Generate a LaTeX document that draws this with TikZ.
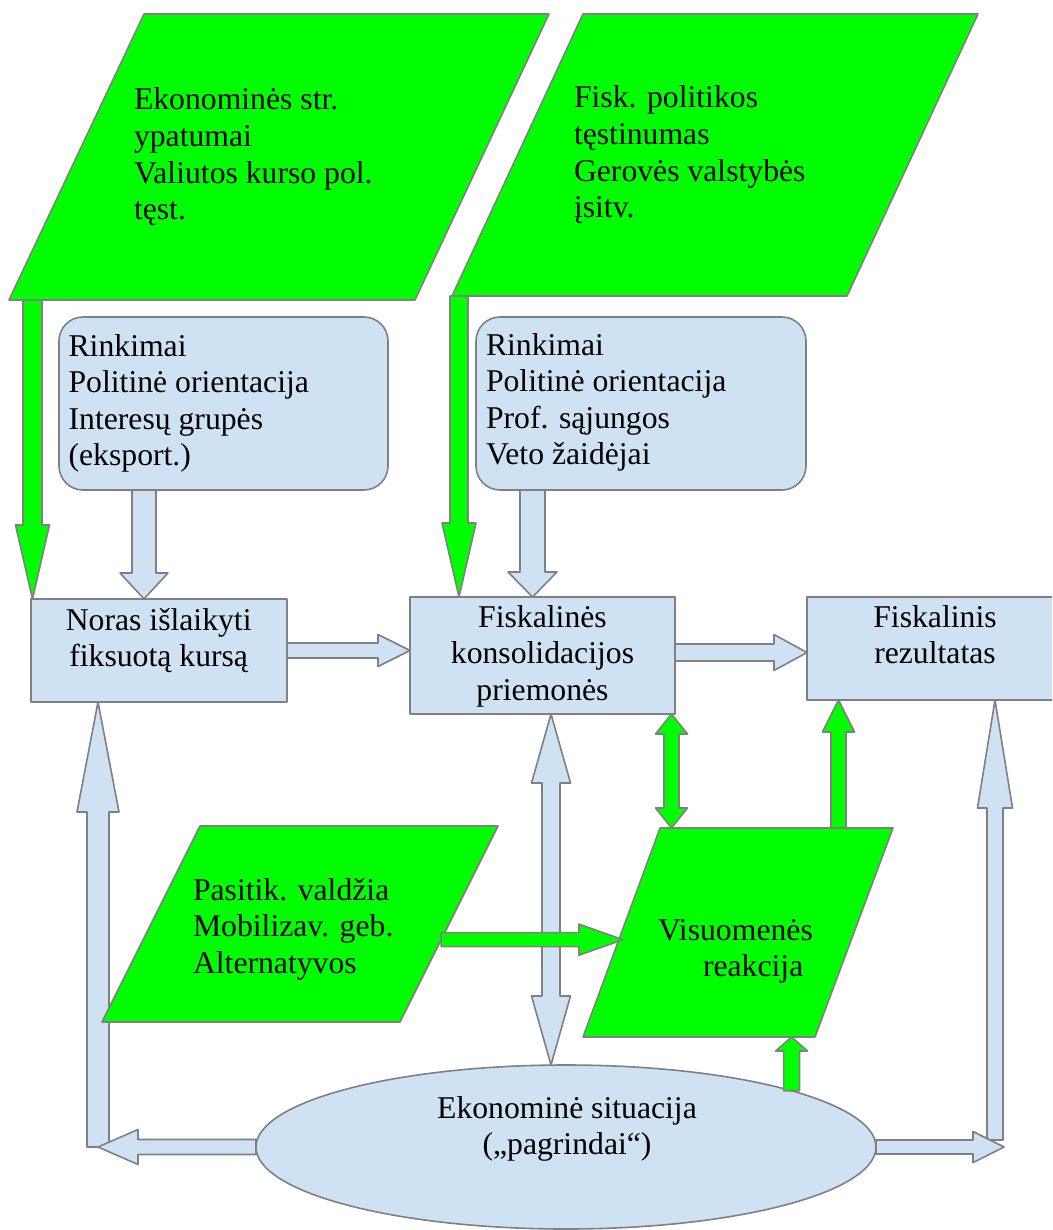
\documentclass[tikz,border=0pt]{standalone}
\usepackage{fontspec}
\setmainfont{Liberation Serif}
\usetikzlibrary{calc,shapes.geometric,backgrounds}
\definecolor{edgegray}{RGB}{128,128,128}
\definecolor{paleblue}{RGB}{207,226,243}
\definecolor{brightgreen}{RGB}{0,255,0}

% block arrow: style, tail, tip, half shaft width, half head width, head length
\newcommand{\blockarrow}[6]{%
  \path ($(#3)!#6!(#2)$) coordinate (abase);
  \draw[#1] ($(#2)!#4!90:(#3)$) -- ($(abase)!#4!90:(#3)$) -- ($(abase)!#5!90:(#3)$) -- (#3)
    -- ($(abase)!#5!-90:(#3)$) -- ($(abase)!#4!-90:(#3)$) -- ($(#2)!#4!-90:(#3)$) -- cycle;}

% block arrow with a head at both ends
\newcommand{\doublearrow}[6]{%
  \path ($(#2)!#6!(#3)$) coordinate (da) ($(#3)!#6!(#2)$) coordinate (db);
  \draw[#1] (#2) -- ($(da)!#5!90:(#3)$) -- ($(da)!#4!90:(#3)$) -- ($(db)!#4!90:(#3)$)
    -- ($(db)!#5!90:(#3)$) -- (#3) -- ($(db)!#5!-90:(#3)$) -- ($(db)!#4!-90:(#3)$)
    -- ($(da)!#4!-90:(#3)$) -- ($(da)!#5!-90:(#3)$) -- cycle;}

\begin{document}
\begin{tikzpicture}[x=1pt,y=-1pt,
  outline/.style={draw=edgegray, line width=1.6pt, line join=round},
  bluefill/.style={outline, fill=paleblue},
  greenfill/.style={outline, fill=brightgreen},
  box/.style={bluefill, rectangle, inner sep=0pt, outer sep=0pt},
  words/.style={inner sep=0pt, outer sep=0pt, text=black,
    font=\fontsize{31.7pt}{36.6pt}\selectfont},
]
\useasboundingbox (0,0) rectangle (1052,1230);
\clip (0,0) rectangle (1052,1230);

% parallelogram corners
\coordinate (p1a) at (144,14);  \coordinate (p1b) at (549,14);
\coordinate (p1c) at (415,300); \coordinate (p1d) at (9,300);
\coordinate (p2a) at (583,14);  \coordinate (p2b) at (978,14);
\coordinate (p2c) at (847,296); \coordinate (p2d) at (452,296);
\coordinate (p3a) at (200,826); \coordinate (p3b) at (498,826);
\coordinate (p3c) at (400,1022);\coordinate (p3d) at (102,1022);
\coordinate (p4a) at (660,828); \coordinate (p4b) at (893,828);
\coordinate (p4c) at (815,1037);\coordinate (p4d) at (583,1037);

% boxes
\node[box, rounded corners=24pt, minimum width=329pt, minimum height=173pt, anchor=north west] (r1) at (59,317) {};
\node[box, rounded corners=24pt, minimum width=330pt, minimum height=173pt, anchor=north west] (r2) at (476,317) {};
\node[box, minimum width=256pt, minimum height=103pt, anchor=north west] (noras) at (31,599) {};
\node[box, minimum width=265pt, minimum height=117pt, anchor=north west] (fk) at (410,597) {};
\node[box, minimum width=256pt, minimum height=103pt, anchor=north west] (fr) at (807,597) {};
\node[bluefill, ellipse, inner sep=0pt, outer sep=0pt, minimum width=620pt, minimum height=164pt] (ell) at (566,1147) {};

% connectors lying beneath the shapes
\begin{pgfonlayer}{background}
  \fill[white] (0,0) rectangle (1052,1230);
  \coordinate (cl) at (98,1147);
  \blockarrow{bluefill}{cl}{cl |- noras.south}{11pt}{21pt}{110pt}
  \coordinate (d1) at ($(fk.south west)+(141,0)$);
  \doublearrow{bluefill}{d1}{d1 |- ell.north}{9pt}{19.5pt}{69pt}
\end{pgfonlayer}

% green parallelograms
\draw[greenfill] (p1a) -- (p1b) -- (p1c) -- (p1d) -- cycle;
\draw[greenfill] (p2a) -- (p2b) -- (p2c) -- (p2d) -- cycle;
\draw[greenfill] (p3a) -- (p3b) -- (p3c) -- (p3d) -- cycle;
\draw[greenfill] (p4a) -- (p4b) -- (p4c) -- (p4d) -- cycle;

% texts
\node[words, anchor=base west] (p1text) at (134,110) {\parbox[t]{300pt}{\raggedright Ekonominės str.\\ypatumai\\Valiutos kurso pol.\\tęst.}};
\node[words, anchor=base west] (p2text) at (574,108) {\parbox[t]{300pt}{\raggedright Fisk. politikos\\tęstinumas\\Gerovės valstybės\\įsitv.}};
\node[words, anchor=base west] (r1text) at (68.6,356) {\parbox[t]{310pt}{\raggedright Rinkimai\\Politinė orientacija\\Interesų grupės\\(eksport.)}};
\node[words, anchor=base west] (r2text) at (486,355) {\parbox[t]{310pt}{\raggedright Rinkimai\\Politinė orientacija\\Prof. sąjungos\\Veto žaidėjai}};
\node[words, anchor=base] (norastext) at (158.7,630) {\parbox[t]{250pt}{\centering Noras išlaikyti\\fiksuotą kursą}};
\node[words, anchor=base] (fktext) at (542.5,627) {\parbox[t]{260pt}{\centering Fiskalinės\\konsolidacijos\\priemonės}};
\node[words, anchor=base] (frtext) at (935,627) {\parbox[t]{250pt}{\centering Fiskalinis\\rezultatas}};
\node[words, anchor=base west] (p3text) at (193,900) {\parbox[t]{300pt}{\raggedright Pasitik. valdžia\\Mobilizav. geb.\\Alternatyvos}};
\node[words, anchor=base west] (p4text) at (658,940) {\parbox[t]{220pt}{\raggedright Visuomenės\\\hspace*{45pt}reakcija}};
\node[words, anchor=base] (elltext) at (567,1118) {\parbox[t]{400pt}{\centering Ekonominė situacija\\(„pagrindai“)}};

% connectors
\coordinate (g1) at ($(noras.north west)+(1.5,0)$);
\blockarrow{greenfill}{g1 |- p1d}{g1}{9.5pt}{17pt}{74pt}
\coordinate (g2) at ($(fk.north west)+(49,0)$);
\blockarrow{greenfill}{g2 |- p2d}{g2}{9pt}{17pt}{74pt}
\coordinate (b3) at ($(noras.north west)+(113,0)$);
\blockarrow{bluefill}{b3 |- r1.south}{b3}{12pt}{24pt}{26pt}
\coordinate (b4) at ($(fk.north west)+(122.5,0)$);
\blockarrow{bluefill}{b4 |- r2.south}{b4}{12.5pt}{24.5pt}{25pt}
\blockarrow{bluefill}{noras.east}{noras.east -| fk.west}{7.5pt}{16pt}{32pt}
\coordinate (b6) at ($(fk.east)+(0,-3)$);
\blockarrow{bluefill}{b6}{b6 -| fr.west}{8.5pt}{18pt}{33pt}
\blockarrow{bluefill}{ell.west}{cl |- ell.west}{7.5pt}{17.5pt}{40pt}
\coordinate (cr) at (995,1140);
\blockarrow{bluefill}{cr}{cr |- fr.south}{8pt}{17.5pt}{108pt}
\coordinate (crt) at ($(cr |- ell.east)+(9,0)$);
\blockarrow{bluefill}{ell.east}{crt}{7pt}{15.5pt}{31pt}
\coordinate (d2) at ($(fk.south east)+(-3.5,0)$);
\doublearrow{greenfill}{d2}{d2 |- p4a}{7.5pt}{16pt}{20pt}
\coordinate (g13) at ($(fr.south west)+(31.5,0)$);
\blockarrow{greenfill}{g13 |- p4a}{g13}{7.5pt}{16pt}{32pt}
\coordinate (g14) at ($(p3b)!0.58!(p3c)$);
\coordinate (g14t) at ($(g14 -| p4d)+(40,0)$);
\blockarrow{greenfill}{g14}{g14t}{7pt}{15.5pt}{44pt}
\blockarrow{greenfill}{ell.14}{ell.14 |- p4d}{8pt}{16pt}{14pt}
\end{tikzpicture}
\end{document}
